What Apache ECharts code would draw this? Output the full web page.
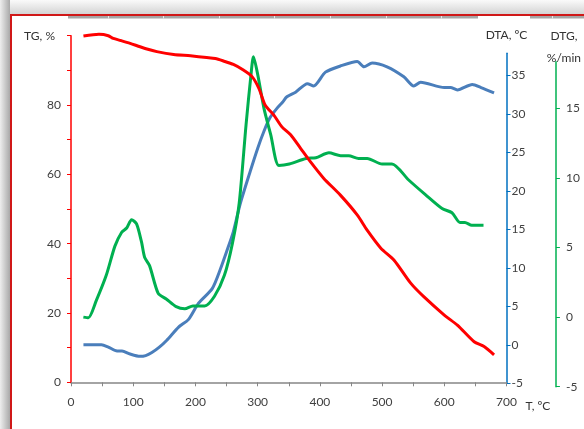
<!DOCTYPE html>
<html>
<head>
<meta charset="utf-8">
<script src="https://cdn.jsdelivr.net/npm/echarts@6/dist/echarts.min.js"></script>
<style>
html,body{margin:0;padding:0;background:#fff;}
#chart{width:584px;height:429px;}
</style>
</head>
<body>
<div id="chart"></div>
<script>
// ---- data ----
const tgT   = [20, 45, 60, 68, 80, 95, 111, 125, 138, 165, 192, 218, 232, 245, 261, 277, 291, 302, 312, 326, 339, 353, 369, 385, 406, 433, 460, 476, 498, 519, 546, 567, 600, 621, 648, 664, 680];
const tgVal = [99.9, 100.4, 100, 99.2, 98.6, 97.8, 96.8, 96.0, 95.4, 94.6, 94.2, 93.7, 93.4, 92.7, 91.7, 90.1, 88.2, 84.8, 80.0, 77.1, 73.7, 71.4, 67.5, 63.6, 58.9, 54.0, 48.3, 43.9, 38.7, 35.3, 28.6, 24.7, 19.4, 16.5, 11.7, 10.3, 7.9];

const dtaT   = [20, 49, 60, 74, 82, 95, 111, 120, 130, 142, 154, 173, 189, 205, 227, 240, 251, 261, 272, 288, 300, 310, 320, 331, 340, 347, 361, 380, 390, 409, 433, 460, 471, 484, 508, 535, 551, 562, 600, 610, 621, 645, 659, 680];
const dtaVal = [0, 0, -0.3, -0.8, -0.8, -1.2, -1.5, -1.4, -1.0, -0.3, 0.6, 2.3, 3.3, 5.4, 7.3, 9.8, 12.3, 14.7, 18.3, 22.5, 25.5, 27.7, 29.5, 30.7, 31.5, 32.2, 32.8, 33.9, 33.6, 35.4, 36.2, 36.8, 36.1, 36.6, 36.1, 34.8, 33.6, 34.1, 33.4, 33.4, 33.1, 33.8, 33.4, 32.7];

const dtgT   = [20, 28, 41, 57, 71, 82, 90, 98, 106, 114, 119, 127, 141, 154, 170, 184, 197, 216, 232, 248, 261, 272, 283, 291, 295, 302, 312, 323, 336, 353, 380, 396, 417, 436, 449, 465, 479, 503, 519, 546, 573, 600, 616, 629, 637, 648, 667];
const dtgVal = [0.0, -0.05, 1.2, 3.0, 5.1, 6.1, 6.4, 7.0, 6.7, 5.4, 4.3, 3.7, 1.7, 1.3, 0.75, 0.6, 0.8, 0.8, 1.5, 3.0, 5.3, 8.2, 13.8, 17.4, 18.7, 17.4, 15.0, 13.1, 10.9, 11.0, 11.4, 11.45, 11.8, 11.6, 11.6, 11.4, 11.4, 11.0, 11.0, 9.85, 8.8, 7.8, 7.5, 6.8, 6.8, 6.6, 6.6];

const tTicks   = [0, 100, 200, 300, 400, 500, 600, 700];
const tgTicks  = [0, 20, 40, 60, 80];
const dtaTicks = [-5, 0, 5, 10, 15, 20, 25, 30, 35];
const dtgTicks = [-5, 0, 5, 10, 15];

const tName = 'T, ºC', tgName = 'TG, %', dtaName = 'DTA, ºC', dtgName = 'DTG,\n%/min';

// ---- chart ----
const zip = (a, b) => a.map((v, i) => [v, b[i]]);
const FONT = 'Lato';
const LBL = { color: '#404040', fontFamily: FONT, fontSize: 12 };
const NAME = { color: '#333', fontFamily: FONT, fontSize: 12 };

const chart = echarts.init(document.getElementById('chart'), null, { renderer: 'canvas' });

const grad = (x, y, x2, y2, c0, c1) => new echarts.graphic.LinearGradient(x, y, x2, y2, [{offset: 0, color: c0}, {offset: 1, color: c1}]);

const seps = [108, 163, 219, 274, 330, 386, 441, 552];
const graphics = [
  { type: 'rect', silent: true, z: -10, shape: {x: 0, y: 0, width: 584, height: 14}, style: {fill: grad(0, 0, 0, 1, '#fafafa', '#d4d4d4')} },
  { type: 'rect', silent: true, z: -10, shape: {x: 0, y: 0, width: 10, height: 429}, style: {fill: grad(0, 0, 1, 0, '#eeeeee', '#a9a9a9')} },
  { type: 'rect', silent: true, z: -9, shape: {x: 68, y: 16, width: 410, height: 2.5}, style: {fill: '#a6a6a6'} },
  { type: 'rect', silent: true, z: -9, shape: {x: 530, y: 16, width: 54, height: 2.5}, style: {fill: '#a6a6a6'} },
  { type: 'line', silent: true, z: -8, shape: {x1: 10, y1: 15, x2: 584, y2: 15}, style: {stroke: '#d01818', lineWidth: 2} },
  { type: 'line', silent: true, z: -8, shape: {x1: 11, y1: 14, x2: 11, y2: 429}, style: {stroke: '#d01818', lineWidth: 2} }
].concat(seps.map(x => ({ type: 'rect', silent: true, z: -8, shape: {x: x, y: 16, width: 1, height: 2.5}, style: {fill: '#e6e6e6'} })));

const option = {
  backgroundColor: '#ffffff',
  animation: false,
  graphic: graphics,
  grid: [
    { left: 71, right: 77.5, top: 35.7, bottom: 46.7 },
    { left: 71, right: 77.5, top: 53.3, bottom: 45.7 },
    { left: 71, right: 77.5, top: 61.7, bottom: 42.3 }
  ],
  xAxis: [
    {
      gridIndex: 0, type: 'value', min: tTicks[0], max: tTicks[tTicks.length - 1], interval: 100,
      name: tName, nameLocation: 'end', nameGap: 19,
      nameTextStyle: Object.assign({ align: 'left', verticalAlign: 'top', padding: [18, 0, 0, 0] }, NAME),
      axisLine: { show: true, lineStyle: { color: '#868686', width: 1.5 } },
      axisTick: { show: true, length: 4, lineStyle: { color: '#868686' }, customValues: tTicks },
      minorTick: { show: true, splitNumber: 2, length: 4, lineStyle: { color: '#868686' } },
      splitLine: { show: false },
      axisLabel: Object.assign({ margin: 14, customValues: tTicks }, LBL)
    },
    { gridIndex: 1, type: 'value', min: 0, max: 700, show: false },
    { gridIndex: 2, type: 'value', min: 0, max: 700, show: false }
  ],
  yAxis: [
    {
      gridIndex: 0, type: 'value', position: 'left', min: 0, max: 100, interval: 20,
      name: tgName, nameLocation: 'end', nameGap: 0,
      nameTextStyle: Object.assign({ align: 'right', verticalAlign: 'middle', padding: [0, 16, 0, 0] }, NAME),
      axisLine: { show: true, lineStyle: { color: '#ff0000', width: 1.5 } },
      axisTick: { show: true, length: 4, lineStyle: { color: '#ff0000' } },
      minorTick: { show: true, splitNumber: 2, length: 4, lineStyle: { color: '#ff0000' } },
      splitLine: { show: false },
      axisLabel: Object.assign({ margin: 10, customValues: tgTicks }, LBL)
    },
    {
      gridIndex: 1, type: 'value', position: 'right', min: -5, max: 37.85, interval: 5,
      name: dtaName, nameLocation: 'end', nameGap: 18,
      nameTextStyle: Object.assign({ align: 'center', verticalAlign: 'middle' }, NAME),
      axisLine: { show: true, onZero: false, lineStyle: { color: '#0070c0', width: 1.5 } },
      axisTick: { show: true, length: 4, lineStyle: { color: '#0070c0' }, customValues: dtaTicks },
      splitLine: { show: false },
      axisLabel: Object.assign({ margin: 5, customValues: dtaTicks }, LBL)
    },
    {
      gridIndex: 2, type: 'value', position: 'right', offset: 52, min: -5, max: 18.35, interval: 5,
      name: dtgName, nameLocation: 'end', nameGap: 15,
      nameTextStyle: Object.assign({ align: 'center', verticalAlign: 'middle', lineHeight: 22, padding: [0, 0, 0, 16] }, NAME),
      axisLine: { show: true, onZero: false, lineStyle: { color: '#00b050', width: 1.5 } },
      axisTick: { show: true, length: 4, lineStyle: { color: '#00b050' }, customValues: dtgTicks },
      splitLine: { show: false },
      axisLabel: Object.assign({ margin: 10, customValues: dtgTicks }, LBL)
    }
  ],
  series: [
    {
      name: 'DTA', type: 'line', xAxisIndex: 1, yAxisIndex: 1, data: zip(dtaT, dtaVal),
      smooth: 0.25, showSymbol: false, clip: false, z: 2,
      lineStyle: { color: '#4a7ebb', width: 3 }
    },
    {
      name: 'DTG', type: 'line', xAxisIndex: 2, yAxisIndex: 2, data: zip(dtgT, dtgVal),
      smooth: 0.25, showSymbol: false, clip: false, z: 3,
      lineStyle: { color: '#00b050', width: 3 }
    },
    {
      name: 'TG', type: 'line', xAxisIndex: 0, yAxisIndex: 0, data: zip(tgT, tgVal),
      smooth: 0.25, showSymbol: false, clip: false, z: 4,
      lineStyle: { color: '#ff0000', width: 3 }
    }
  ]
};
chart.setOption(option);
</script>
</body>
</html>
